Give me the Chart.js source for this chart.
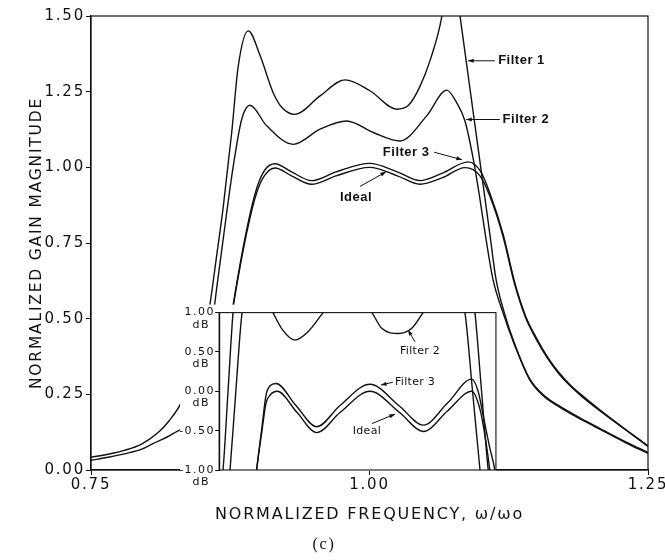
<!DOCTYPE html>
<html>
<head>
<meta charset="utf-8">
<script src="https://cdn.jsdelivr.net/npm/chart.js@4.4.1/dist/chart.umd.min.js"></script>
<style>
  html, body { margin: 0; background: #fff; }
  #wrap { position: relative; width: 665px; height: 560px; }
  #wrap canvas { position: absolute; left: 0; top: 0; }
</style>
</head>
<body>
<div id="wrap">
  <canvas id="mainChart" width="665" height="560"></canvas>
  <canvas id="insetChart" width="665" height="560"></canvas>
</div>
<script>
// main plot: gain magnitude vs normalized frequency
const f1Freq = [0.75, 0.765, 0.78, 0.795, 0.81, 0.82, 0.8315, 0.845, 0.856, 0.8625, 0.8688, 0.8763, 0.8822, 0.8912, 0.9017, 0.9137, 0.922, 0.933, 0.9556, 0.978, 1.0004, 1.0244, 1.035, 1.045, 1.055, 1.065, 1.073, 1.081, 1.093, 1.1007, 1.108, 1.1136, 1.121, 1.13, 1.144, 1.157, 1.171, 1.19, 1.207, 1.23, 1.25];
const f1Gain = [0.042, 0.052, 0.065, 0.085, 0.123, 0.162, 0.226, 0.36, 0.53, 0.70, 0.872, 1.115, 1.335, 1.451, 1.37, 1.245, 1.195, 1.175, 1.236, 1.289, 1.253, 1.192, 1.205, 1.265, 1.36, 1.50, 1.72, 1.507, 1.184, 0.977, 0.78, 0.63, 0.52, 0.42, 0.30, 0.245, 0.21, 0.17, 0.137, 0.093, 0.058];

const f2Freq = [0.75, 0.765, 0.782, 0.795, 0.806, 0.815, 0.824, 0.836, 0.85, 0.8604, 0.8628, 0.8718, 0.8777, 0.8853, 0.8927, 0.9077, 0.9316, 0.9556, 0.9795, 1.0034, 1.0274, 1.0513, 1.0693, 1.0782, 1.0857, 1.0932, 1.0992, 1.1037, 1.1109, 1.1198, 1.13, 1.144, 1.157, 1.171, 1.19, 1.207, 1.23, 1.25];
const f2Gain = [0.032, 0.042, 0.055, 0.068, 0.088, 0.103, 0.121, 0.157, 0.30, 0.53, 0.60, 0.85, 1.004, 1.159, 1.205, 1.137, 1.076, 1.126, 1.153, 1.115, 1.087, 1.170, 1.255, 1.214, 1.153, 1.026, 0.894, 0.784, 0.629, 0.52, 0.415, 0.297, 0.242, 0.207, 0.167, 0.134, 0.09, 0.055];

const f3Freq = [0.852, 0.86, 0.868, 0.8777, 0.8898, 0.8987, 0.9062, 0.9152, 0.93, 0.948, 0.97, 1.0, 1.025, 1.0453, 1.065, 1.0887, 1.10, 1.108, 1.12, 1.13, 1.14, 1.15, 1.16, 1.17, 1.18, 1.19, 1.207, 1.23, 1.25];
const f3Gain = [0.0, 0.125, 0.31, 0.548, 0.795, 0.93, 0.992, 1.012, 0.985, 0.956, 0.985, 1.013, 0.985, 0.956, 0.98, 1.018, 0.985, 0.915, 0.778, 0.625, 0.51, 0.435, 0.372, 0.322, 0.282, 0.249, 0.198, 0.134, 0.08];

const idFreq = [0.852, 0.86, 0.868, 0.8777, 0.8898, 0.8987, 0.9062, 0.9152, 0.93, 0.948, 0.97, 1.0, 1.025, 1.0453, 1.065, 1.0857, 1.0992, 1.108, 1.12, 1.13, 1.14, 1.15, 1.16, 1.17, 1.18, 1.19, 1.207, 1.23, 1.25];
const idGain = [0.0, 0.12, 0.30, 0.541, 0.784, 0.916, 0.975, 0.998, 0.972, 0.944, 0.972, 1.0, 0.972, 0.944, 0.965, 0.999, 0.972, 0.905, 0.77, 0.618, 0.505, 0.43, 0.368, 0.318, 0.278, 0.245, 0.195, 0.132, 0.078];

const gainTicks = [0, 0.25, 0.5, 0.75, 1.0, 1.25, 1.5];
const freqTicks = [0.75, 1.0, 1.25];

// inset: passband detail in dB
const d1Freq = [0.865, 0.8685, 0.873, 0.8775, 0.881, 1.091, 1.0947, 1.1006, 1.1066, 1.11];
const d1Db = [-1.3, -1.0, 0.0, 1.0, 1.4, 1.4, 1.0, 0.0, -1.0, -1.3];

const d2Freq = [0.872, 0.8748, 0.880, 0.8856, 0.892, 0.905, 0.9134, 0.922, 0.9331, 0.945, 0.9584, 0.97, 0.99, 1.0022, 1.011, 1.0259, 1.0379, 1.048, 1.06, 1.08, 1.0857, 1.0925, 1.0992, 1.102];
const d2Db = [-1.4, -1.0, 0.0, 1.0, 1.3, 1.25, 1.0, 0.78, 0.65, 0.76, 1.0, 1.2, 1.2, 1.0, 0.8, 0.735, 0.8, 1.0, 1.3, 1.3, 1.0, 0.0, -1.0, -1.4];

const d3Freq = [0.896, 0.8987, 0.9035, 0.9071, 0.9107, 0.9161, 0.934, 0.9526, 0.9735, 1.0004, 1.027, 1.0483, 1.07, 1.0917, 1.0975, 1.1022, 1.108, 1.1125, 1.116];
const d3Db = [-1.4, -1.0, -0.45, -0.05, 0.07, 0.10, -0.18, -0.45, -0.18, 0.09, -0.19, -0.43, -0.15, 0.155, 0.0, -0.32, -0.72, -1.0, -1.4];

const d0Freq = [0.896, 0.8987, 0.9035, 0.9071, 0.9107, 0.9172, 0.935, 0.9526, 0.9735, 1.0004, 1.027, 1.0483, 1.07, 1.0917, 1.0992, 1.1035, 1.108, 1.111];
const d0Db = [-1.4, -1.0, -0.5, -0.15, -0.05, 0.0, -0.27, -0.525, -0.27, 0.0, -0.27, -0.51, -0.25, 0.0, -0.23, -0.55, -1.0, -1.4];

const dbTicks = [-1, -0.5, 0, 0.5, 1];

// where the inset box sits, in main-plot units
const insetFreqMin = 0.865;
const insetFreqMax = 1.1135;
const insetTopGain = 0.52;

const ink = '#111';

const mainNotes = [
  { text: 'Filter 1', at: [1.1155, 1.352], from: [1.1125, 1.352], to: [1.0885, 1.352] },
  { text: 'Filter 2', at: [1.1195, 1.158], from: [1.117, 1.158], to: [1.0868, 1.158] },
  { text: 'Filter 3', at: [1.012, 1.05], from: [1.058, 1.05], to: [1.083, 1.025] },
  { text: 'Ideal', at: [0.9735, 0.899], from: [0.9915, 0.937], to: [1.0148, 0.985] }
];
const insetNotes = [
  { text: 'Filter 2', at: [1.0274, 0.51], from: [1.0408, 0.63], to: [1.0346, 0.78] },
  { text: 'Filter 3', at: [1.0229, 0.115], from: [1.021, 0.115], to: [1.0103, 0.08] },
  { text: 'Ideal', at: [0.985, -0.51], from: [1.0022, -0.41], to: [1.0229, -0.29] }
];

function pts(xs, ys) {
  return xs.map((x, i) => ({ x: x, y: ys[i] }));
}

function curve(label, xs, ys) {
  return {
    label: label,
    data: pts(xs, ys),
    borderColor: ink,
    borderWidth: 1.4,
    pointRadius: 0,
    fill: false,
    cubicInterpolationMode: 'monotone'
  };
}

function spacingPlugin(value) {
  return {
    id: 'spacing',
    beforeLayout(chart) { chart.ctx.letterSpacing = value; },
    beforeDraw(chart) { chart.ctx.letterSpacing = value; }
  };
}

function framePlugin(width, fill) {
  return {
    id: 'frame',
    beforeDraw(chart) {
      if (!fill) return;
      const a = chart.chartArea, ctx = chart.ctx;
      ctx.save();
      ctx.fillStyle = '#fff';
      ctx.fillRect(a.left - fill.left, a.top - fill.top, a.right - a.left + fill.left, a.bottom - a.top + fill.top + 1);
      ctx.restore();
    },
    afterDatasetsDraw(chart) {
      const a = chart.chartArea, ctx = chart.ctx;
      ctx.save();
      ctx.strokeStyle = ink;
      ctx.lineWidth = width;
      ctx.strokeRect(a.left, a.top, a.right - a.left, a.bottom - a.top);
      ctx.restore();
    }
  };
}

function notesPlugin(items, font, spacing) {
  return {
    id: 'notes',
    afterDatasetsDraw(chart) {
      const ctx = chart.ctx, sx = chart.scales.x, sy = chart.scales.y;
      ctx.save();
      ctx.fillStyle = ink;
      ctx.strokeStyle = ink;
      ctx.lineWidth = 1;
      ctx.font = font;
      ctx.letterSpacing = spacing;
      ctx.textBaseline = 'middle';
      ctx.textAlign = 'left';
      items.forEach(n => {
        ctx.fillText(n.text, sx.getPixelForValue(n.at[0]), sy.getPixelForValue(n.at[1]));
        const x0 = sx.getPixelForValue(n.from[0]), y0 = sy.getPixelForValue(n.from[1]);
        const x1 = sx.getPixelForValue(n.to[0]), y1 = sy.getPixelForValue(n.to[1]);
        ctx.beginPath();
        ctx.moveTo(x0, y0);
        ctx.lineTo(x1, y1);
        ctx.stroke();
        const ang = Math.atan2(y1 - y0, x1 - x0);
        ctx.beginPath();
        ctx.moveTo(x1, y1);
        ctx.lineTo(x1 - 6 * Math.cos(ang - 0.35), y1 - 6 * Math.sin(ang - 0.35));
        ctx.lineTo(x1 - 6 * Math.cos(ang + 0.35), y1 - 6 * Math.sin(ang + 0.35));
        ctx.closePath();
        ctx.fill();
      });
      ctx.restore();
    }
  };
}

const tickFont = { family: 'DejaVu Sans', size: 15 };

const mainChart = new Chart(document.getElementById('mainChart'), {
  type: 'line',
  data: {
    datasets: [
      curve('Filter 1', f1Freq, f1Gain),
      curve('Filter 2', f2Freq, f2Gain),
      curve('Filter 3', f3Freq, f3Gain),
      curve('Ideal', idFreq, idGain)
    ]
  },
  options: {
    responsive: false,
    animation: false,
    events: [],
    layout: { padding: { left: 0, right: 17, top: 16, bottom: 0 } },
    plugins: {
      legend: { display: false },
      tooltip: { enabled: false },
      title: {
        display: true,
        position: 'bottom',
        text: '(c)',
        color: ink,
        font: { family: 'Liberation Serif', size: 16, weight: 'normal' },
        padding: { top: 8, bottom: 6 }
      }
    },
    scales: {
      x: {
        type: 'linear',
        min: 0.75,
        max: 1.25,
        afterBuildTicks: axis => { axis.ticks = freqTicks.map(v => ({ value: v })); },
        ticks: { color: ink, font: tickFont, padding: 1, maxRotation: 0, autoSkip: false, callback: v => v.toFixed(2) },
        grid: { drawOnChartArea: false, tickLength: 5, color: ink },
        border: { color: ink, width: 1.2 },
        title: { display: true, text: 'NORMALIZED FREQUENCY, ω/ωo', color: ink, font: { family: 'DejaVu Sans', size: 16 }, padding: { top: 0, bottom: 2 } },
        afterFit: axis => { axis.height = 56.8; axis.paddingLeft = 0; axis.paddingRight = 0; }
      },
      y: {
        type: 'linear',
        min: 0,
        max: 1.5,
        afterBuildTicks: axis => { axis.ticks = gainTicks.map(v => ({ value: v })); },
        ticks: { color: ink, font: tickFont, padding: 1, callback: v => v.toFixed(2) },
        grid: { drawOnChartArea: false, tickLength: 5, color: ink },
        border: { color: ink, width: 1.2 },
        title: { display: true, text: 'NORMALIZED GAIN MAGNITUDE', color: ink, font: { family: 'DejaVu Sans', size: 15.5 }, padding: { top: 28, bottom: 0 } },
        afterFit: axis => { axis.width = 91; axis.paddingTop = 0; axis.paddingBottom = 0; }
      }
    }
  },
  plugins: [spacingPlugin('1.8px'), framePlugin(1.2, null), notesPlugin(mainNotes, 'bold 13px "Liberation Sans"', '0.5px')]
});

// inset box placed through the main chart's own scales
const mx = mainChart.scales.x, my = mainChart.scales.y;
const boxLeft = mx.getPixelForValue(insetFreqMin);
const boxRight = mx.getPixelForValue(insetFreqMax);
const boxTop = my.getPixelForValue(insetTopGain);
const boxBottom = my.getPixelForValue(0);
const insetAxisWidth = 41;

new Chart(document.getElementById('insetChart'), {
  type: 'line',
  data: {
    datasets: [
      curve('Filter 1', d1Freq, d1Db),
      curve('Filter 2', d2Freq, d2Db),
      curve('Filter 3', d3Freq, d3Db),
      curve('Ideal', d0Freq, d0Db)
    ]
  },
  options: {
    responsive: false,
    animation: false,
    events: [],
    layout: {
      padding: { left: boxLeft - insetAxisWidth, right: 665 - boxRight, top: boxTop, bottom: 560 - boxBottom }
    },
    plugins: { legend: { display: false }, tooltip: { enabled: false } },
    scales: {
      x: { type: 'linear', display: false, min: insetFreqMin, max: insetFreqMax },
      y: {
        type: 'linear',
        min: -1,
        max: 1,
        afterBuildTicks: axis => { axis.ticks = dbTicks.map(v => ({ value: v })); },
        ticks: {
          color: ink,
          font: { family: 'DejaVu Sans', size: 11, lineHeight: 1.1 },
          padding: 0,
          callback: v => v === -0.5 ? '-0.50' : ['', v.toFixed(2), 'dB ']
        },
        grid: { drawOnChartArea: false, tickLength: 4, color: ink },
        border: { color: ink, width: 1.2 },
        afterFit: axis => { axis.width = insetAxisWidth; axis.paddingTop = 0; axis.paddingBottom = 0; }
      }
    }
  },
  plugins: [spacingPlugin('1.5px'), framePlugin(1.1, { left: insetAxisWidth - 2, top: 8 }), notesPlugin(insetNotes, '11px "DejaVu Sans"', '0.3px')]
});
</script>
</body>
</html>
